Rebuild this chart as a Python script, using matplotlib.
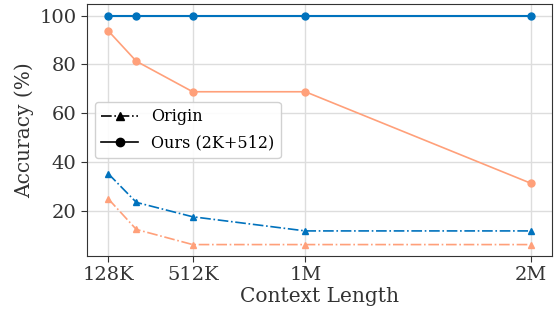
import numpy as np
import matplotlib
matplotlib.use("Agg")
import matplotlib.pyplot as plt
from matplotlib.lines import Line2D

# context lengths in K tokens
context_k = [128, 256, 512, 1024, 2048]
tick_pos = [128, 512, 1024, 2048]
tick_labels = ["128K", "512K", "1M", "2M"]

# accuracy (%)
ours_blue = [100, 100, 100, 100, 100]
ours_orange = [93.75, 81.25, 68.75, 68.75, 31.25]
origin_blue = [35.2, 23.4, 17.5, 11.7, 11.7]
origin_orange = [24.9, 12.3, 6.1, 6.1, 6.1]

blue = "#0072BD"
orange = "#FFA07A"

plt.rcParams["font.family"] = "DejaVu Serif"

fig = plt.figure(figsize=(5.58, 3.13), dpi=100)
ax = fig.add_axes([0.156, 0.182, 0.833, 0.805])

ax.plot(context_k, ours_blue, "-o", color=blue, lw=1.5, ms=5)
ax.plot(context_k, ours_orange, "-o", color=orange, lw=1.2, ms=5)
ax.plot(context_k, origin_blue, "-.^", color=blue, lw=1.2, ms=5)
ax.plot(context_k, origin_orange, "-.^", color=orange, lw=1.2, ms=5)

ax.set_xticks(tick_pos)
ax.set_xticklabels(tick_labels)
ax.set_yticks([20, 40, 60, 80, 100])
ax.tick_params(labelsize=14, colors="#333333", length=4)
ax.grid(True, color="#dddddd", lw=1)
ax.set_axisbelow(True)
for s in ax.spines.values():
    s.set_color("#333333")

ax.set_xlabel("Context Length", fontsize=14.5, color="#333333", labelpad=2)
ax.set_ylabel("Accuracy (%)", fontsize=14.5, color="#333333", labelpad=4)

handles = [
    Line2D([], [], color="black", ls="-.", marker="^", ms=6, lw=1.2),
    Line2D([], [], color="black", ls="-", marker="o", ms=6, lw=1.2),
]
ax.legend(handles, ["Origin", "Ours (2K+512)"], loc="center left", fontsize=11.5,
          framealpha=0.9, edgecolor="#cccccc", labelspacing=0.6, handlelength=2.3)

fig.savefig("out.png", dpi=100)
